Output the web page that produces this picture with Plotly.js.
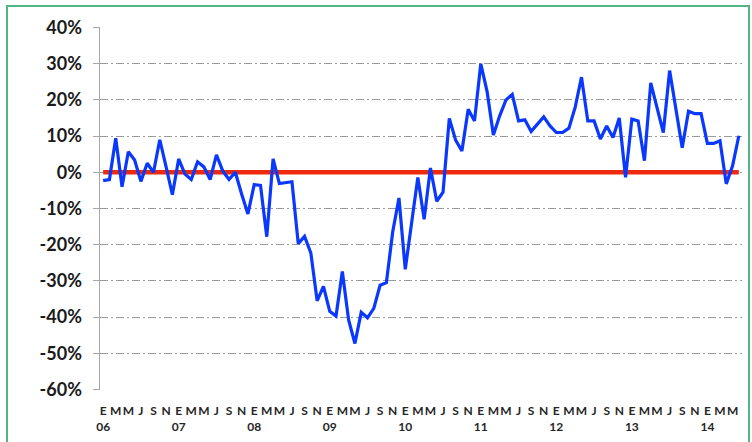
<!DOCTYPE html>
<html>
<head>
<meta charset="utf-8">
<script src="https://cdn.plot.ly/plotly-3.0.1.min.js"></script>
<style>
  html, body { margin: 0; padding: 0; background: #ffffff; }
  #wrap { position: relative; width: 752px; height: 442px; overflow: hidden; }
  #chart { position: absolute; left: 0; top: 0; width: 752px; height: 442px; }
  #frame { position: absolute; left: 6px; top: 5px; width: 744px; height: 460px;
           box-sizing: border-box; border: 2px solid #52B584; pointer-events: none; }
</style>
</head>
<body>
<div id="wrap">
  <div id="chart"></div>
  <div id="frame"></div>
</div>
<script>
// Year labels and month initials (Spanish)
const years = ["06", "07", "08", "09", "10", "11", "12", "13", "14"];
const monthInitials = ["E", "F", "M", "A", "M", "J", "J", "A", "S", "O", "N", "D"];

// Monthly year-on-year change, Jan 2006 – Jun 2014 (fraction)
const variation = [
  -0.023, -0.020, 0.094, -0.040, 0.057, 0.034, -0.025, 0.025, 0.000, 0.090, 0.015, -0.062,
  0.037, -0.005, -0.020, 0.029, 0.015, -0.020, 0.048, 0.004, -0.020, 0.000, -0.060, -0.115,
  -0.034, -0.036, -0.178, 0.037, -0.031, -0.028, -0.026, -0.197, -0.177, -0.223, -0.355, -0.315,
  -0.384, -0.397, -0.274, -0.408, -0.473, -0.387, -0.402, -0.376, -0.312, -0.305, -0.165, -0.071,
  -0.268, -0.141, -0.014, -0.130, 0.012, -0.080, -0.055, 0.149, 0.089, 0.059, 0.174, 0.142,
  0.300, 0.223, 0.103, 0.156, 0.200, 0.215, 0.142, 0.145, 0.113, 0.133, 0.153, 0.128,
  0.110, 0.110, 0.122, 0.180, 0.263, 0.142, 0.142, 0.092, 0.128, 0.096, 0.150, -0.014,
  0.147, 0.142, 0.032, 0.247, 0.179, 0.110, 0.281, 0.174, 0.068, 0.169, 0.162, 0.162,
  0.080, 0.080, 0.087, -0.032, 0.018, 0.101
];

// Zero reference series
const zeroLine = variation.map(() => 0);

// Y axis ticks
const yTickValues = [-0.6, -0.5, -0.4, -0.3, -0.2, -0.1, 0, 0.1, 0.2, 0.3, 0.4];
const yTickText = ["-60%", "-50%", "-40%", "-30%", "-20%", "-10%", "0%", "10%", "20%", "30%", "40%"];

// Build categories and bimonthly tick labels
const categories = [];
const xTickValues = [];
const xTickText = [];
for (let k = 0; k < variation.length; k++) {
  const y = years[Math.floor(k / 12)];
  const m = k % 12;
  const cat = y + "-" + String(m + 1).padStart(2, "0");
  categories.push(cat);
  if (m % 2 === 0) {
    xTickValues.push(cat);
    xTickText.push(m === 0 ? monthInitials[m] + "<br>" + y : monthInitials[m]);
  }
}

const traces = [
  {
    x: categories, y: zeroLine, type: "scatter", mode: "lines",
    line: { color: "#EE2A0C", width: 4.5 }, hoverinfo: "skip", showlegend: false
  },
  {
    x: categories, y: variation, type: "scatter", mode: "lines",
    line: { color: "#0A38FF", width: 3.2 }, showlegend: false
  }
];

const layout = {
  width: 752, height: 442,
  margin: { l: 100, r: 10, t: 27, b: 52, pad: 0 },
  paper_bgcolor: "#ffffff", plot_bgcolor: "#ffffff",
  showlegend: false,
  xaxis: {
    type: "category",
    range: [-0.5, variation.length - 0.5],
    tickmode: "array", tickvals: xTickValues, ticktext: xTickText,
    tickangle: 0,
    showgrid: false, zeroline: false, showline: false,
    ticks: "", ticklabelstandoff: 12,
    tickfont: { family: "Lato, 'Open Sans', sans-serif", size: 12, color: "#262626", weight: "bold" }
  },
  yaxis: {
    range: [-0.6015, 0.4015],
    tickmode: "array", tickvals: yTickValues, ticktext: yTickText,
    showgrid: true, gridcolor: "#9A9A9A", gridwidth: 1, griddash: "8px,3px,2px,3px",
    zeroline: false,
    showline: true, linecolor: "#A6A6A6", linewidth: 1.5,
    ticks: "outside", ticklen: 6, tickcolor: "#A6A6A6", tickwidth: 1,
    ticklabelstandoff: 7,
    tickfont: { family: "Lato, 'Open Sans', sans-serif", size: 18, color: "#1A1A1A", weight: "bold" }
  }
};

Plotly.newPlot("chart", traces, layout, { staticPlot: true, displayModeBar: false });
</script>
</body>
</html>
